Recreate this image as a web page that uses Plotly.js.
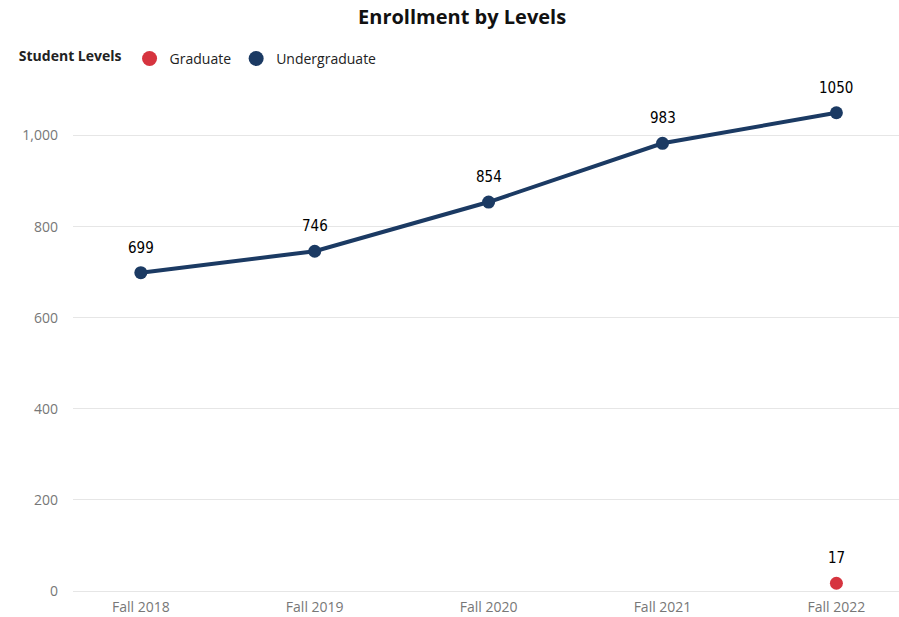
<!DOCTYPE html>
<html><head><meta charset="utf-8">
<script src="https://cdn.plot.ly/plotly-3.0.1.min.js"></script>
<style>html,body{margin:0;padding:0;background:#fff}#chart{width:899px;height:617px}</style>
</head><body><div id="chart"></div>
<script>
const categories = ["Fall 2018","Fall 2019","Fall 2020","Fall 2021","Fall 2022"];
const undergraduate = [699, 746, 854, 983, 1050];
const graduateCats = ["Fall 2022"];
const graduate = [17];
const yTicks = [0, 200, 400, 600, 800, 1000];
const yTickText = ["0","200","400","600","800","1,000"];

const navy = "#1B3A63";
const red = "#D6343F";
const labelFont = {family: "DejaVu Sans Condensed, DejaVu Sans", size: 15, color: "#000"};

const traces = [
  {x: categories, y: undergraduate, type: "scatter", mode: "lines+markers", name: "Undergraduate",
   line: {color: navy, width: 4}, marker: {color: navy, size: 13}, showlegend: false, hoverinfo: "x+y"},
  {x: graduateCats, y: graduate, type: "scatter", mode: "markers", name: "Graduate",
   marker: {color: red, size: 13}, showlegend: false},
  {x: [null], y: [null], type: "scatter", mode: "markers", name: "Graduate", marker: {color: red, size: 15}},
  {x: [null], y: [null], type: "scatter", mode: "markers", name: "Undergraduate", marker: {color: navy, size: 15}}
];

const annotations = [];
undergraduate.forEach((v, i) => annotations.push({x: categories[i], y: v, text: String(v), showarrow: false, yshift: 25, font: labelFont}));
graduate.forEach((v, i) => annotations.push({x: graduateCats[i], y: v, text: String(v), showarrow: false, yshift: 25, font: labelFont}));

const layout = {
  width: 899, height: 617,
  margin: {l: 73, r: 0, t: 90, b: 26},
  paper_bgcolor: "#fff", plot_bgcolor: "#fff",
  font: {family: "Open Sans, Noto Sans, sans-serif", color: "#777", size: 14},
  title: {text: "<b>Enrollment by Levels</b>", x: 0.514, xref: "container", xanchor: "center", y: 0.972, yref: "container", yanchor: "middle",
          font: {family: "Open Sans, Noto Sans, sans-serif", size: 20, color: "#111"}},
  showlegend: true,
  legend: {orientation: "h", x: -0.068, xanchor: "left", y: 1.062, yanchor: "middle", yref: "paper",
           title: {text: "<b>Student Levels</b>", font: {size: 14, color: "#222"}, side: "left"},
           font: {size: 14, color: "#222"}, itemwidth: 30, tracegroupgap: 0, itemclick: false},
  xaxis: {type: "category", range: [-0.39, 4.36], showgrid: false, zeroline: false, showline: false,
          ticks: "", ticklabelstandoff: 6, tickfont: {size: 14, color: "#777"}, fixedrange: true},
  yaxis: {range: [0, 1100], tickvals: yTicks, ticktext: yTickText, showgrid: true, gridcolor: "#e6e6e6", gridwidth: 1,
          zeroline: true, zerolinecolor: "#e6e6e6", zerolinewidth: 1, showline: false, ticks: "", ticklabelstandoff: 14,
          tickfont: {size: 14, color: "#777"}, fixedrange: true},
  annotations: annotations
};

Plotly.newPlot("chart", traces, layout, {displayModeBar: false, staticPlot: true});
</script></body></html>
